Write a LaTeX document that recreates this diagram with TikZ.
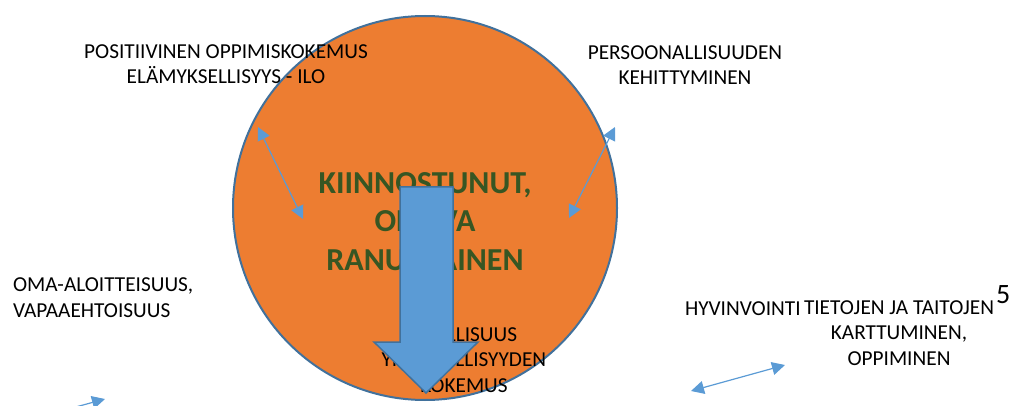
\documentclass[tikz,border=0pt]{standalone}
\usepackage{fontspec}
\setmainfont{Carlito}
\usetikzlibrary{arrows.meta}
\definecolor{orng}{HTML}{ED7D31}
\definecolor{blu}{HTML}{5B9BD5}
\definecolor{bluedge}{HTML}{41719C}
\definecolor{grn}{HTML}{375623}

\begin{document}
\begin{tikzpicture}
[x=1pt,y=-1pt,
 every node/.style={inner sep=0pt,outer sep=0pt,font=\fontsize{21.3}{25.3}\selectfont},
 lbl/.style={align=center,anchor=base},
 lbll/.style={align=left,anchor=base west},
 ttl/.style={align=center,anchor=base,text=grn,font=\fontsize{32}{38.5}\selectfont\bfseries},
 ring/.style={circle,draw=bluedge,fill=orng,line width=2pt,minimum size=384pt},
 link/.style={blu,line width=1.2pt,{Triangle[length=13pt,width=13pt]}-{Triangle[length=13pt,width=13pt]}},
 bigarrow/.style={fill=blu,draw=bluedge,line width=1.5pt,line join=miter}]
\useasboundingbox (0,0) rectangle (1023,406);
\clip (0,0) rectangle (1023,406);

\node[ring] (core) at (425,208) {};

% multi-line labels sit on the baseline of their last line
\node[lbl]  (posit) at (226,84)  {POSITIIVINEN OPPIMISKOKEMUS\\ELÄMYKSELLISYYS - ILO};
\node[lbl]  (pers)  at (685,85)  {PERSOONALLISUUDEN\\KEHITTYMINEN};
\node[lbll] (oma)   at (13,317)  {OMA-ALOITTEISUUS,\\VAPAAEHTOISUUS};
\node[lbll] (hyv)   at (685,316) {HYVINVOINTI};
\node[lbl]  (tiet)  at (899,365) {TIETOJEN JA TAITOJEN\\KARTTUMINEN,\\OPPIMINEN};
\node[lbll,font=\fontsize{28}{30}\selectfont] (num) at (996,303) {5};
\node[ttl]  (title) at (425,270) {KIINNOSTUNUT,\\OPPIVA\\RANUALAINEN};
\node[lbl]  (osal)  at (464,392) {OSALLISUUS\\YHTEISÖLLISYYDEN\\KOKEMUS};

% thin two-way arrows
\coordinate (ulA) at (258,127);
\coordinate (ulB) at (303,219);
\coordinate (urA) at (615,127);
\coordinate (urB) at (569,218);
\coordinate (lrA) at (691,391);
\coordinate (lrB) at (785,365);
\coordinate (llA) at (10,425);
\coordinate (llB) at (105,399);
\draw[link] (ulA) -- (ulB);
\draw[link] (urA) -- (urB);
\draw[link] (lrA) -- (lrB);
\draw[link] (llA) -- (llB);

% big arrow down through the circle
\draw[bigarrow] (400,187) -- (453,187) -- (453,342) -- (478,342) -- (426,393)
  -- (374,342) -- (400,342) -- cycle;
\end{tikzpicture}
\end{document}
